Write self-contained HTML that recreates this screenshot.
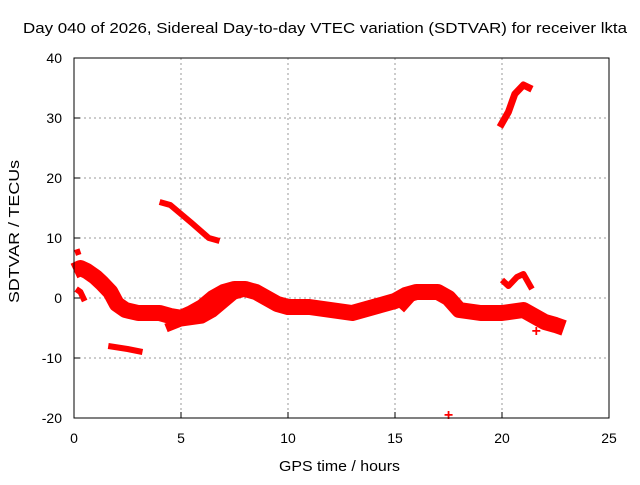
<!DOCTYPE html>
<html><head><meta charset="utf-8"><style>
body{margin:0;background:#fff;}
svg text{font-family:"Liberation Sans",sans-serif;font-size:14px;fill:#000;}
svg text.pt{fill:#f00;font-weight:bold;font-size:16px;}
</style></head><body>
<svg id="chart" width="640" height="480" xmlns="http://www.w3.org/2000/svg">
<text x="23" y="33" textLength="604" lengthAdjust="spacingAndGlyphs" style="font-size:15px">Day 040 of 2026, Sidereal Day-to-day VTEC variation (SDTVAR) for receiver lkta</text>
<g id="grid"></g>
<g id="marks"></g>
<rect x="74" y="58" width="535" height="360" fill="none" stroke="#000" stroke-width="1"/>
<g id="ticks"></g>
<text x="279" y="471" textLength="121" lengthAdjust="spacingAndGlyphs" style="font-size:15px">GPS time / hours</text>
<text transform="translate(19,303) rotate(-90)" textLength="143" lengthAdjust="spacingAndGlyphs" style="font-size:15px">SDTVAR / TECUs</text>
</svg>
<script>
const xTicks=[0,5,10,15,20,25];
const yTicks=[-20,-10,0,10,20,30,40];
const mainHours=[0,0.3,0.6,1.0,1.3,1.7,2.0,2.4,3.0,4.0,4.5,5.0,5.5,6.0,6.5,7.0,7.5,8.0,8.5,9,9.5,10,11,12,13,14,15,15.5,16,16.5,17,17.5,18,19,20,21,21.5,22,22.5,22.9];
const mainVals=[4.5,5,4.5,3.5,2.5,1,-1,-2,-2.5,-2.5,-3,-3.3,-2.5,-1.5,0,1,1.5,1.5,1,0,-1,-1.5,-1.5,-2,-2.5,-1.5,-0.5,0.5,1,1,1,0,-2,-2.5,-2.5,-2,-3,-4,-4.5,-5];
const lowHours=[4.3,5,6,6.5,7,7.5,8];
const lowVals=[-5,-4,-3.5,-2.5,-1,0.5,1];
const lateHours=[15.3,15.8,16.5];
const lateVals=[-2,0,1];
const smallHours=[0.1,0.3,0.5];
const smallVals=[1.5,1,-0.5];
const topHours=[0.05,0.3];
const topVals=[7.5,7.8];
const negHours=[1.6,2.5,3.2];
const negVals=[-8,-8.5,-9];
const slopeHours=[4.0,4.5,5.5,6.3,6.8];
const slopeVals=[16,15.5,12.5,10,9.5];
const highHours=[19.9,20.3,20.6,21,21.4];
const highVals=[28.5,31,34,35.5,34.8];
const bumpHours=[20,20.3,20.7,21,21.4];
const bumpVals=[3,2,3.5,4,1.5];
const dotHours=[17.5,21.6,21.6];
const dotVals=[-19.5,-3,-5.5];
const NS="http://www.w3.org/2000/svg";
const X=h=>74+h*535/25;
const Y=v=>58+(40-v)*6;
const grid=document.getElementById('grid'),ticks=document.getElementById('ticks'),marks=document.getElementById('marks');
function mk(t,a,p){const e=document.createElementNS(NS,t);for(const k in a)e.setAttribute(k,a[k]);p.appendChild(e);return e;}
xTicks.forEach(t=>{
  if(t>0&&t<25){const l=mk('line',{x1:X(t),x2:X(t),y1:58,y2:418,stroke:'#999','stroke-dasharray':'2,3'},grid);
  
  }
  const k=mk('line',{x1:X(t),x2:X(t),y1:418,y2:412,stroke:'#000'},ticks);
  
  
  const s=mk('text',{x:X(t),y:443,'text-anchor':'middle'},ticks);s.textContent=t;
  
  
});
yTicks.forEach(t=>{
  if(t>-20&&t<40){const l=mk('line',{x1:74,x2:609,y1:Y(t),y2:Y(t),stroke:'#999','stroke-dasharray':'2,3'},grid);
  
  }
  const k=mk('line',{x1:74,x2:80,y1:Y(t),y2:Y(t),stroke:'#000'},ticks);
  
  
  const s=mk('text',{x:62,y:Y(t)+5,'text-anchor':'end'},ticks);s.textContent=t;
  
  
});
function series(hs,vs,w,name){
  const p=mk('polyline',{points:hs.map((h,i)=>X(h)+','+Y(vs[i])).join(' '),fill:'none',stroke:'#f00','stroke-width':w,'stroke-linejoin':'round','stroke-linecap':'butt'},marks);
  
  
}
series(mainHours,mainVals,16,'main-band');
series(lowHours,lowVals,9,'lower-band');
series(lateHours,lateVals,7,'late-band');
series(smallHours,smallVals,6,'early-small-series');
series(topHours,topVals,6,'early-top-series');
series(negHours,negVals,6,'negative-series');
series(slopeHours,slopeVals,6,'slope-series');
series(highHours,highVals,7,'high-series');
series(bumpHours,bumpVals,6,'bump-series');
dotHours.forEach((h,i)=>{
  const t=mk('text',{x:X(h),y:Y(dotVals[i])+5,'text-anchor':'middle','class':'pt'},marks);
  t.textContent='+';
  
  
});
</script>
</body></html>
